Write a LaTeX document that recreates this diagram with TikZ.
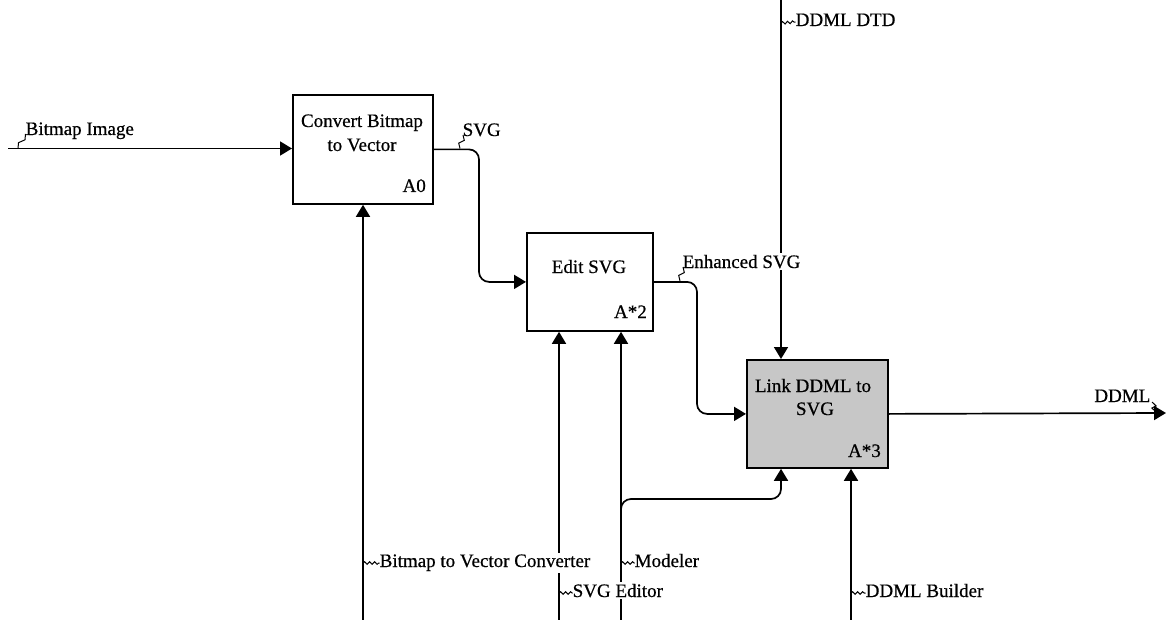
\documentclass[tikz,border=0pt]{standalone}
\usepackage{fontspec}
\setmainfont{Liberation Serif}[FakeBold=0.6]
\usetikzlibrary{arrows.meta,calc,decorations.pathmorphing}
\begin{document}
\begin{tikzpicture}[x=1pt,y=-1pt,
  box/.style={draw,line width=1.8pt,anchor=north west,inner sep=0pt},
  flow/.style={line width=1.7pt,rounded corners=10pt,-{Triangle[length=12pt,width=14pt]}},
  txt/.style={font=\fontsize{19}{24}\selectfont,inner sep=0pt},
  lbl/.style={txt,fill=white,inner sep=1.5pt,anchor=base west},
  tilde/.style={line width=1pt,decorate,decoration={snake,amplitude=1.3pt,segment length=5pt}},
  bolt/.style={line width=1pt,to path={-- ($(\tikztostart)!0.4!(\tikztotarget)+(-2.5,0)$) -- ($(\tikztostart)!0.6!(\tikztotarget)+(2.5,0)$) -- (\tikztotarget)}}
]
\useasboundingbox (0,0) rectangle (1166,620);
% boxes
\node[box,minimum width=140pt,minimum height=109pt] (A0) at (292,94) {};
\node[box,minimum width=126pt,minimum height=98pt] (A2) at (526,232) {};
\node[box,minimum width=141pt,minimum height=108pt,fill=black!22] (A3) at (746,359) {};
% box texts
\node[txt,anchor=base] (t0a) at (362,127) {Convert Bitmap};
\node[txt,anchor=base] (t0b) at (362,151) {to Vector};
\node[txt,anchor=base east] (n0) at (426,192) {A0};
\node[txt,anchor=base] (t2) at (589,273) {Edit SVG};
\node[txt,anchor=base east] (n2) at (647,318) {A*2};
\node[txt,anchor=base] (t3a) at (813,392) {Link DDML to};
\node[txt,anchor=base] (t3b) at (815,415) {SVG};
\node[txt,anchor=base east] (n3) at (881,457) {A*3};
% coordinates
\coordinate (bi) at (8,148.5);
\coordinate (svgx) at (479,0);
\coordinate (esx) at (697,0);
\coordinate (dtd) at (781,0);
\coordinate (ddml) at (1166,413);
\coordinate (bvc) at (363,620);
\coordinate (sed) at (559,620);
\coordinate (mod) at (621,620);
\coordinate (modb) at (621,525);
\coordinate (mbr) at (781,499);
\coordinate (ddb) at (851,620);
% flows
\draw[flow] (bi) -- (bi -| A0.west);
\draw[flow] (A0.east) -| (svgx |- A2.west) -- (A2.west);
\draw[flow] (A2.east) -| (esx |- A3.west) -- (A3.west);
\draw[flow] (dtd) -- (dtd |- A3.north);
\draw[flow] (A3.east) -- (ddml);
\draw[flow] (bvc) -- (bvc |- A0.south);
\draw[flow] (sed) -- (sed |- A2.south);
\draw[flow] (mod) -- (mod |- A2.south);
\draw[flow] (modb) |- (mbr) -- (mbr |- A3.south);
\draw[flow] (ddb) -- (ddb |- A3.south);
% labels
\node[lbl] (lbi) at (24,135) {Bitmap Image};
\node[lbl] (lsvg) at (461,136) {SVG};
\node[lbl] (les) at (681,268) {Enhanced SVG};
\node[lbl,anchor=base east] (lddml) at (1152,402) {DDML};
\node[lbl] (ldtd) at (794,26) {DDML DTD};
\node[lbl] (lbvc) at (378,567) {Bitmap to Vector Converter};
\node[lbl] (lsed) at (571,597) {SVG Editor};
\node[lbl] (lmod) at (633,567) {Modeler};
\node[lbl] (lddb) at (864,597) {DDML Builder};
% squiggles
\coordinate (sbi) at (18,148.5);
\coordinate (ssvg) at (460,148.5);
\coordinate (ses) at (680,281);
\coordinate (sddml) at (1156,412);
\coordinate (sdtd) at (781,23);
\coordinate (sbvc) at (363,563);
\coordinate (ssed) at (559,593);
\coordinate (smod) at (621,563);
\coordinate (sddb) at (851,593);
\draw[bolt] (sbi) to ($(lbi.base west)+(1.5,-1)$);
\draw[bolt] (ssvg) to ($(lsvg.base west)+(2,-1)$);
\draw[bolt] (ses) to ($(les.base west)+(2,-1)$);
\draw[bolt] (sddml) to ($(lddml.base east)+(0,0)$);
\draw[tilde] (sdtd) -- ($(ldtd.base west)+(1.5,-4)$);
\draw[tilde] (sbvc) -- ($(lbvc.base west)+(1.5,-4)$);
\draw[tilde] (ssed) -- ($(lsed.base west)+(1.5,-4)$);
\draw[tilde] (smod) -- ($(lmod.base west)+(1.5,-4)$);
\draw[tilde] (sddb) -- ($(lddb.base west)+(1.5,-4)$);
\end{tikzpicture}
\end{document}
